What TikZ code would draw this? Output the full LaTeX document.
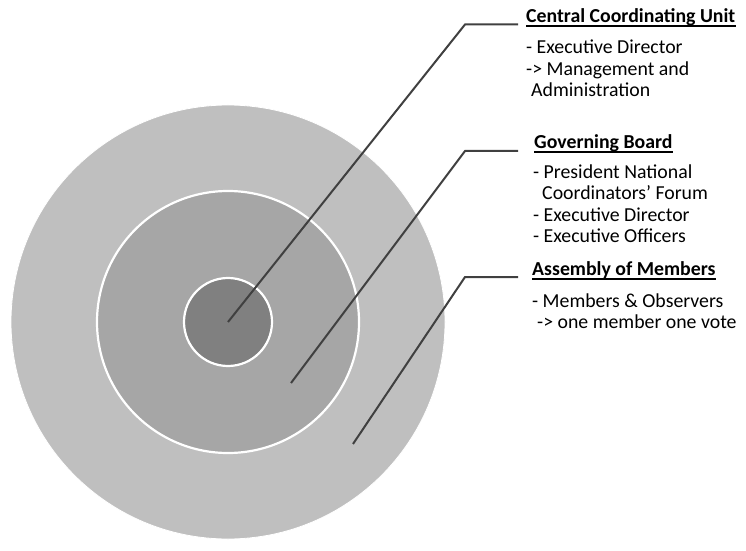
\documentclass[tikz,border=0pt]{standalone}
\usepackage{fontspec}
\setmainfont{Carlito}
\usetikzlibrary{positioning}
\begin{document}
\begin{tikzpicture}[x=1bp,y=-1bp,
  ring/.style={circle,draw=white,line width=2.2bp,inner sep=0pt},
  leader/.style={draw=black!75,line width=2bp},
  head/.style={anchor=base west,inner sep=0pt,font=\fontsize{19.8bp}{21.5bp}\selectfont\bfseries},
  items/.style={anchor=base west,inner sep=0pt,align=left,font=\fontsize{19.8bp}{21.5bp}\selectfont}]
\useasboundingbox (0,0) rectangle (746,551);
\node[ring,fill=black!25,line width=0.8bp,minimum size=434bp] (outer) at (228,322) {};
\node[ring,fill=black!35,minimum size=262bp] (middle) at (228,322) {};
\node[ring,fill=black!50,minimum size=88bp] (inner) at (228,322) {};
\node[head] (ccu) at (526,22.5) {Central Coordinating Unit};
\node[head] (gb) at (534,148.5) {Governing Board};
\node[head] (am) at (532,275.5) {Assembly of Members};
\foreach \h in {ccu,gb,am}
  \draw[line width=1.3bp] ([yshift=-3.6bp]\h.base west) -- ([yshift=-3.6bp]\h.base east);
\node[items] (ccu-list) at (526,96.7) {- Executive Director\\-> Management and\\\hspace*{5bp}Administration};
\node[items] (gb-list) at (533,243) {- President National\\\hspace*{9bp}Coordinators’ Forum\\- Executive Director\\- Executive Officers};
\node[items] (am-list) at (532,328.5) {- Members \& Observers\\\hspace*{5bp}-> one member one vote};
\coordinate (k1) at (465,24.5);
\coordinate (k2) at (465,151);
\coordinate (k3) at (465,277);
\coordinate (s2) at (291,383);
\coordinate (s3) at (353,444);
\draw[leader] (inner.center) -- (k1) -- (k1 -| 518,0);
\draw[leader] (s2) -- (k2) -- (k2 -| 518,0);
\draw[leader] (s3) -- (k3) -- (k3 -| 518,0);
\end{tikzpicture}
\end{document}
